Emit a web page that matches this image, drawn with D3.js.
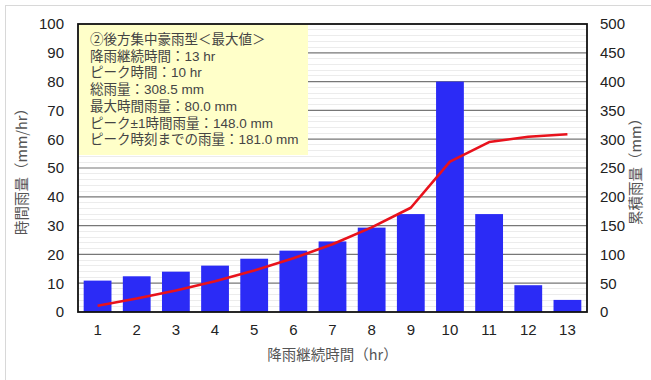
<!DOCTYPE html>
<html>
<head>
<meta charset="utf-8">
<script src="https://cdn.jsdelivr.net/npm/d3@7"></script>
<style>
  body { margin: 0; background: #fff; }
  text { font-family: "Noto Sans CJK JP", "Liberation Sans", sans-serif; }
  .tick-label { font-family: "Liberation Sans", Arial, sans-serif; font-size: 15px; fill: #222; }
  .axis-label { font-size: 14.5px; fill: #555; }
  .info { font-family: "Liberation Sans", "Noto Sans CJK JP", sans-serif; font-size: 13.5px; fill: #444; }
</style>
</head>
<body>
<div id="chart"></div>
<script>
// data
const hours = [1, 2, 3, 4, 5, 6, 7, 8, 9, 10, 11, 12, 13];
const hourlyRain = [10.9, 12.4, 14.0, 16.1, 18.5, 21.3, 24.5, 29.3, 34.0, 80.0, 34.0, 9.3, 4.2];
const leftTicks = [0, 10, 20, 30, 40, 50, 60, 70, 80, 90, 100];
const rightTicks = [0, 50, 100, 150, 200, 250, 300, 350, 400, 450, 500];
const infoLines = [
  '②後方集中豪雨型＜最大値＞',
  '降雨継続時間：13 hr',
  'ピーク時間：10 hr',
  '総雨量：308.5 mm',
  '最大時間雨量：80.0 mm',
  'ピーク±1時間雨量：148.0 mm',
  'ピーク時刻までの雨量：181.0 mm'
];

const cumulative = [];
hourlyRain.reduce((acc, v, i) => { cumulative[i] = acc + v; return acc + v; }, 0);

const W = 651, H = 380;
const margin = { top: 24, right: 64, bottom: 68, left: 78 };
const width = W - margin.left - margin.right;
const height = H - margin.top - margin.bottom;

const svg = d3.select('#chart').append('svg')
  .attr('width', W)
  .attr('height', H);

// outer frame
svg.append('rect')
  .attr('x', 5.5).attr('y', 5.5)
  .attr('width', W + 10).attr('height', H + 10)
  .attr('fill', 'none')
  .attr('stroke', '#d8d8d8');

const g = svg.append('g')
  .attr('transform', `translate(${margin.left},${margin.top})`);

const x = d3.scaleBand()
  .domain(hours)
  .range([0, width])
  .paddingInner(0.29)
  .paddingOuter(0.145);

const yL = d3.scaleLinear().domain([0, 100]).range([height, 0]);
const yR = d3.scaleLinear().domain([0, 500]).range([height, 0]);

// minor grid
g.selectAll('.minor')
  .data(d3.range(2, 100, 2).filter(v => v % 10 !== 0))
  .enter().append('line')
  .attr('class', 'minor')
  .attr('x1', 0).attr('x2', width)
  .attr('y1', d => yL(d)).attr('y2', d => yL(d))
  .attr('stroke', '#ececec')
  .attr('shape-rendering', 'crispEdges');

// major grid
g.selectAll('.major')
  .data(leftTicks.slice(1, -1))
  .enter().append('line')
  .attr('class', 'major')
  .attr('x1', 0).attr('x2', width)
  .attr('y1', d => yL(d)).attr('y2', d => yL(d))
  .attr('stroke', '#777')
  .attr('stroke-width', 1.2);

// info box
const infoBox = g.append('g');
infoBox.append('rect')
  .attr('x', 0).attr('y', 0)
  .attr('width', 230).attr('height', 131)
  .attr('fill', '#ffffc9');
infoBox.selectAll('text')
  .data(infoLines)
  .enter().append('text')
  .attr('class', 'info')
  .attr('x', 12)
  .attr('y', (d, i) => 20 + i * 16.7)
  .text(d => d);

// bars
g.selectAll('.bar')
  .data(hours)
  .enter().append('rect')
  .attr('class', 'bar')
  .attr('x', d => x(d))
  .attr('width', x.bandwidth())
  .attr('y', (d, i) => yL(hourlyRain[i]))
  .attr('height', (d, i) => height - yL(hourlyRain[i]))
  .attr('fill', '#2b2bf6');

// cumulative line
const line = d3.line()
  .x((d, i) => x(hours[i]) + x.bandwidth() / 2)
  .y(d => yR(d));

g.append('path')
  .datum(cumulative)
  .attr('d', line)
  .attr('fill', 'none')
  .attr('stroke', '#e8121c')
  .attr('stroke-width', 2.6)
  .attr('stroke-linejoin', 'round');

// frame
g.append('rect')
  .attr('width', width).attr('height', height)
  .attr('fill', 'none')
  .attr('stroke', '#111')
  .attr('stroke-width', 1.8);

// axes
const leftAxis = g.append('g')
  .call(d3.axisLeft(yL).tickValues(leftTicks).tickSize(0).tickPadding(14));
const rightAxis = g.append('g')
  .attr('transform', `translate(${width},0)`)
  .call(d3.axisRight(yR).tickValues(rightTicks).tickSize(0).tickPadding(13));
const bottomAxis = g.append('g')
  .attr('transform', `translate(0,${height})`)
  .call(d3.axisBottom(x).tickSize(0).tickPadding(12));

[leftAxis, rightAxis, bottomAxis].forEach(a => {
  a.select('.domain').remove();
  a.selectAll('text').attr('class', 'tick-label').attr('font-size', null).attr('font-family', null);
});

// axis titles
svg.append('text')
  .attr('class', 'axis-label')
  .attr('text-anchor', 'middle')
  .attr('transform', `translate(27,${margin.top + height / 2}) rotate(-90)`)
  .text('時間雨量（mm/hr）');

svg.append('text')
  .attr('class', 'axis-label')
  .attr('text-anchor', 'middle')
  .attr('transform', `translate(641,${margin.top + height / 2}) rotate(-90)`)
  .text('累積雨量（mm）');

svg.append('text')
  .attr('class', 'axis-label')
  .attr('text-anchor', 'middle')
  .attr('x', margin.left + width / 2)
  .attr('y', 360)
  .text('降雨継続時間（hr）');
</script>
</body>
</html>
